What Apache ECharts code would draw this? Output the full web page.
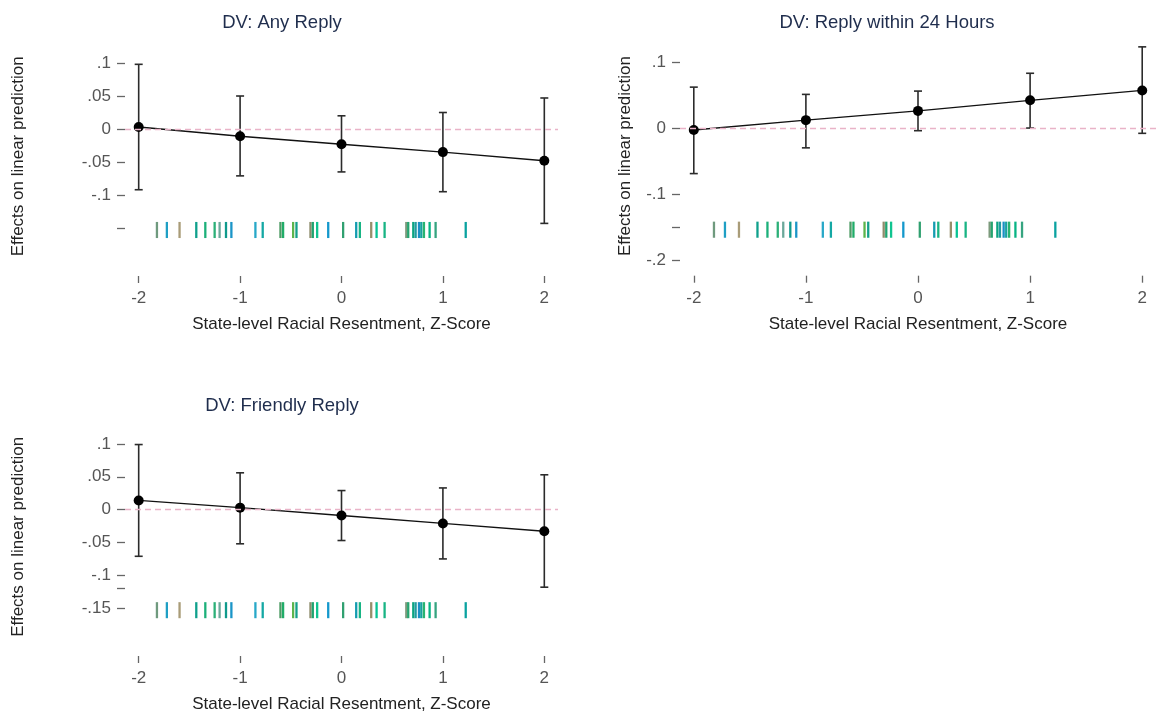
<!DOCTYPE html>
<html>
<head>
<meta charset="utf-8">
<script src="https://cdn.jsdelivr.net/npm/echarts@6/dist/echarts.min.js"></script>
<style>html,body{margin:0;padding:0;background:#fff;}#c{width:1156px;height:714px;}</style>
</head>
<body>
<div id="c"></div>
<script>
// ---- data ----
const X_VALUES = [-2, -1, 0, 1, 2];
const X_TICKS = [-2, -1, 0, 1, 2];

const EST_ANY = [0.003, -0.011, -0.023, -0.035, -0.048];
const LO_ANY  = [-0.092, -0.071, -0.065, -0.095, -0.143];
const HI_ANY  = [0.098, 0.050, 0.020, 0.025, 0.047];

const EST_24H = [-0.002, 0.013, 0.027, 0.043, 0.058];
const LO_24H  = [-0.068, -0.029, -0.003, 0.001, -0.007];
const HI_24H  = [0.063, 0.052, 0.057, 0.084, 0.124];

const EST_FRIENDLY = [0.014, 0.003, -0.009, -0.021, -0.033];
const LO_FRIENDLY  = [-0.071, -0.052, -0.047, -0.075, -0.118];
const HI_FRIENDLY  = [0.099, 0.056, 0.029, 0.033, 0.053];

// state-level racial resentment z-scores (rug)
const RUG_X = [-1.820, -1.722, -1.597, -1.432, -1.343, -1.251, -1.202, -1.139, -1.086,
  -0.849, -0.777, -0.602, -0.576, -0.477, -0.444, -0.306, -0.283, -0.240, -0.131,
  0.016, 0.145, 0.181, 0.293, 0.346, 0.425, 0.639, 0.658, 0.708, 0.731, 0.764,
  0.787, 0.813, 0.869, 0.928, 1.225];
const RUG_COLORS = ['#6f9a7e', '#1f9fc4', '#a99c78', '#0fa08c', '#1cb07a', '#2cb078', '#6aa89a',
  '#0f9a8c', '#1a95c8', '#28a8c8', '#14a8a4', '#4e9c66', '#20ac68', '#5cb44c', '#14a08a',
  '#8e8c6c', '#20a470', '#10c490', '#1498cc', '#30a070', '#149cb0', '#18b484', '#968e6c',
  '#08c494', '#18b484', '#7c9a7c', '#26a470', '#0aa480', '#229ca0', '#1a90c4', '#18a2a0',
  '#28b470', '#08b484', '#36a480', '#0aa2a0'];
const RUG_Y = -0.153;

const Y_TICKS_ANY = [0.1, 0.05, 0, -0.05, -0.1, -0.15];
const Y_LABELS_ANY = [0.1, 0.05, 0, -0.05, -0.1];
const Y_TICKS_24H = [0.1, 0, -0.1, -0.15, -0.2];
const Y_LABELS_24H = [0.1, 0, -0.1, -0.2];
const Y_TICKS_FRIENDLY = [0.1, 0.05, 0, -0.05, -0.1, -0.12, -0.15];
const Y_LABELS_FRIENDLY = [0.1, 0.05, 0, -0.05, -0.1, -0.15];

const TITLES = ['DV: Any Reply', 'DV: Reply within 24 Hours', 'DV: Friendly Reply'];
const X_NAME = 'State-level Racial Resentment, Z-Score';
const Y_NAME = 'Effects on linear prediction';

// ---- layout / style ----
const FONT = 'Liberation Sans, Arial, Helvetica, sans-serif';
const Y_MIN = -0.2227, Y_MAX = 0.14;
const GRID_H = 239.4;
const panels = [
  {est: EST_ANY, lo: LO_ANY, hi: HI_ANY, yt: Y_TICKS_ANY, yl: Y_LABELS_ANY,
   grid: {left: 125, top: 36.6, width: 433, height: GRID_H}, xmin: -2.135, xmax: 2.135,
   title: {x: 277, y: 8}, nameGap: 98},
  {est: EST_24H, lo: LO_24H, hi: HI_24H, yt: Y_TICKS_24H, yl: Y_LABELS_24H,
   grid: {left: 680, top: 36.3, width: 484, height: GRID_H}, xmin: -2.123, xmax: 2.123,
   title: {x: 882, y: 8}, nameGap: 46},
  {est: EST_FRIENDLY, lo: LO_FRIENDLY, hi: HI_FRIENDLY, yt: Y_TICKS_FRIENDLY, yl: Y_LABELS_FRIENDLY,
   grid: {left: 125, top: 417.6, width: 433, height: GRID_H}, xmin: -2.135, xmax: 2.135,
   title: {x: 277, y: 391}, nameGap: 98}
];

function fmt(v) {
  if (Math.abs(v) < 1e-9) return '0';
  let s = Math.abs(v).toFixed(3).replace(/0+$/, '').replace(/\.$/, '');
  s = s.replace(/^0/, '');
  return (v < 0 ? '-' : '') + s;
}

const option = {
  backgroundColor: '#fff',
  animation: false,
  title: [], grid: [], xAxis: [], yAxis: [], series: []
};

panels.forEach((p, i) => {
  option.title.push({
    text: TITLES[i], left: p.title.x, top: p.title.y, textAlign: 'center',
    textStyle: {fontFamily: FONT, fontSize: 18.5, fontWeight: 'normal', color: '#1f2d4d'}
  });
  option.grid.push(Object.assign({containLabel: false}, p.grid));
  option.xAxis.push({
    type: 'value', gridIndex: i, min: p.xmin, max: p.xmax, position: 'bottom',
    axisLine: {show: false, onZero: false}, splitLine: {show: false},
    axisTick: {show: true, inside: false, length: 7, customValues: X_TICKS,
      lineStyle: {color: '#666', width: 1.3}},
    axisLabel: {customValues: X_TICKS, margin: 14, fontFamily: FONT, fontSize: 17, color: '#555',
      formatter: v => String(v)},
    name: X_NAME, nameLocation: 'middle', nameGap: 40,
    nameTextStyle: {fontFamily: FONT, fontSize: 17, color: '#222'}
  });
  option.yAxis.push({
    type: 'value', gridIndex: i, min: Y_MIN, max: Y_MAX, position: 'left',
    axisLine: {show: false, onZero: false}, splitLine: {show: false},
    axisTick: {show: true, inside: false, length: 8, customValues: p.yt,
      lineStyle: {color: '#666', width: 1.3}},
    axisLabel: {customValues: p.yl, margin: 14, fontFamily: FONT, fontSize: 17, color: '#555',
      formatter: v => fmt(v)},
    name: Y_NAME, nameLocation: 'middle', nameGap: p.nameGap, nameRotate: 90,
    nameTextStyle: {fontFamily: FONT, fontSize: 17, color: '#222'}
  });
  // rug
  option.series.push({
    type: 'custom', xAxisIndex: i, yAxisIndex: i, silent: true, z: 2,
    data: RUG_X.map((x, k) => ({value: [x, RUG_Y], itemStyle: {color: RUG_COLORS[k % RUG_COLORS.length]}})),
    renderItem: (params, api) => {
      const x = api.value(0), y = api.value(1);
      const a = api.coord([x, y + 0.0122]);
      const b = api.coord([x, y - 0.0122]);
      return {type: 'line', shape: {x1: a[0], y1: a[1], x2: b[0], y2: b[1]},
        style: {stroke: api.visual('color'), lineWidth: 2.3}};
    }
  });
  // zero reference line
  option.series.push({
    type: 'line', xAxisIndex: i, yAxisIndex: i, data: [], silent: true,
    markLine: {silent: true, symbol: 'none', label: {show: false},
      lineStyle: {color: '#e9b3c8', type: [6, 4], width: 1.4},
      data: [{yAxis: 0}]}
  });
  // error bars
  option.series.push({
    type: 'custom', xAxisIndex: i, yAxisIndex: i, silent: true, z: 3,
    data: X_VALUES.map((x, k) => [x, p.lo[k], p.hi[k]]),
    renderItem: (params, api) => {
      const x = api.value(0);
      const lo = api.coord([x, api.value(1)]);
      const hi = api.coord([x, api.value(2)]);
      const st = {stroke: '#2b2b2b', lineWidth: 1.6};
      const w = 4;
      return {type: 'group', children: [
        {type: 'line', shape: {x1: lo[0], y1: lo[1], x2: hi[0], y2: hi[1]}, style: st},
        {type: 'line', shape: {x1: lo[0] - w, y1: lo[1], x2: lo[0] + w, y2: lo[1]}, style: st},
        {type: 'line', shape: {x1: hi[0] - w, y1: hi[1], x2: hi[0] + w, y2: hi[1]}, style: st}
      ]};
    }
  });
  // point estimates
  option.series.push({
    type: 'line', xAxisIndex: i, yAxisIndex: i, z: 4,
    data: X_VALUES.map((x, k) => [x, p.est[k]]),
    symbol: 'circle', symbolSize: 10,
    itemStyle: {color: '#000'}, lineStyle: {color: '#111', width: 1.4}
  });
});

const chart = echarts.init(document.getElementById('c'), null, {renderer: 'canvas'});
chart.setOption(option);
</script>
</body>
</html>
